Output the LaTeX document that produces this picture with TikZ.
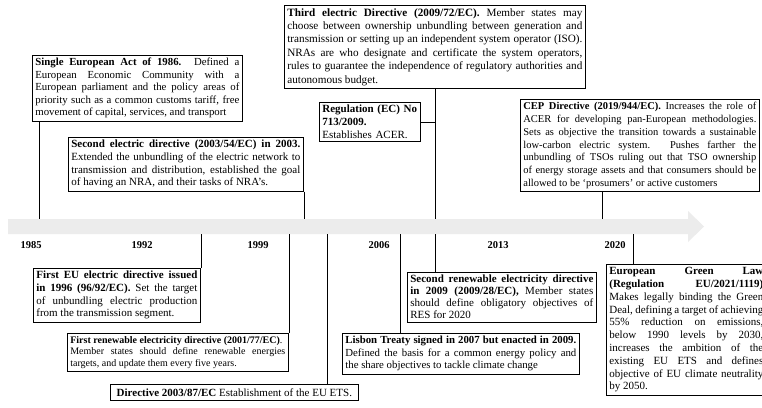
\documentclass[tikz,border=0pt]{standalone}
\usepackage{fontspec}
\setmainfont{Liberation Serif}
\usetikzlibrary{positioning}

\hyphenpenalty=10000
\exhyphenpenalty=10000
\tolerance=9999
\emergencystretch=2em

\tikzset{
	evbox/.style={draw, line width=0.7pt, anchor=north west, inner sep=3pt, align=justify},
	yearlbl/.style={font=\fontsize{10.5}{12}\selectfont\bfseries},
	link/.style={line width=0.7pt}
}

\begin{document}
\begin{tikzpicture}[x=1pt,y=-1pt]
	\clip (0,0) rectangle (762,407);
	\fill [white] (0,0) rectangle (762,407);
	
	% timeline arrow
	\fill [gray!15] (8,219) -- (688,219) -- (688,211) -- (704,226.5) -- (688,242) -- (688,234) -- (8,234) -- cycle;
	
	\foreach \yr/\xx in {1985/31,1992/142,1999/258,2006/379,2013/498,2020/615}
		\node [yearlbl] (y\yr) at (\xx,245) {\yr};
	
	% above the line
	\node [evbox, text width=204pt, font=\fontsize{10.8}{12.4}\selectfont] (sea) at (32,55) {\textbf{Single European Act of 1986.} Defined a\linebreak European Economic Community with a\linebreak European parliament and the policy areas of\linebreak priority such as a common customs tariff, free\linebreak movement of capital, services, and transport};
	\node [evbox, text width=229pt, font=\fontsize{11}{12.65}\selectfont] (sed) at (68,137) {\textbf{Second electric directive (2003/54/EC) in 2003.}\linebreak Extended the unbundling of the electric network to\linebreak transmission and distribution, established the goal\linebreak of having an NRA, and their tasks of NRA’s.};
	\node [evbox, text width=295pt, font=\fontsize{11.2}{13.4}\selectfont] (third) at (284,5) {\textbf{Third electric Directive (2009/72/EC).} Member states may\linebreak choose between ownership unbundling between generation and\linebreak transmission or setting up an independent system operator (ISO).\linebreak NRAs are who designate and certificate the system operators,\linebreak rules to guarantee the independence of regulatory authorities and\linebreak autonomous budget.};
	\node [evbox, text width=95pt, align=left, font=\fontsize{11}{12.65}\selectfont] (reg) at (319,102) {\textbf{Regulation (EC) No 713/2009.}\\ Establishes ACER.};
	\node [evbox, text width=233pt, font=\fontsize{10.5}{12.8}\selectfont] (cep) at (520,99) {\textbf{CEP Directive (2019/944/EC).} Increases the role of\linebreak ACER for developing pan-European methodologies.\linebreak Sets as objective the transition towards a sustainable\linebreak low-carbon electric system. Pushes farther the\linebreak unbundling of TSOs ruling out that TSO ownership\linebreak of energy storage assets and that consumers should be\linebreak allowed to be ‘prosumers’ or active customers};
	
	% below the line
	\node [evbox, text width=161pt, font=\fontsize{11}{12.65}\selectfont] (firstEU) at (33,268) {\textbf{First EU electric directive issued}\linebreak \textbf{in 1996 (96/92/EC).} Set the target\linebreak of unbundling electric production\linebreak from the transmission segment.};
	\node [evbox, text width=215pt, font=\fontsize{10}{11.5}\selectfont] (firstRen) at (67,333) {\textbf{First renewable electricity directive (2001/77/EC)}.\\ Member states should define renewable energies\linebreak targets, and update them every five years.};
	\node [evbox, minimum width=248pt, inner ysep=4pt, align=center, font=\fontsize{11}{12.65}\selectfont] (dirETS) at (110,384) {\textbf{Directive 2003/87/EC} Establishment of the EU ETS.};
	\node [evbox, text width=231pt, font=\fontsize{10.8}{12.4}\selectfont] (lisbon) at (342,333) {\textbf{Lisbon Treaty signed in 2007 but enacted in 2009.}\linebreak Defined the basis for a common energy policy and\linebreak the share objectives to tackle climate change};
	\node [evbox, text width=183pt, font=\fontsize{11}{12}\selectfont] (secRen) at (407,272) {\textbf{Second renewable electricity directive}\linebreak \textbf{in 2009 (2009/28/EC),} Member states\linebreak should define obligatory objectives of\linebreak RES for 2020};
	\node [evbox, text width=154pt, font=\fontsize{11}{12.8}\selectfont] (green) at (606,264) {\textbf{European Green Law}\linebreak \textbf{(Regulation EU/2021/1119)}\linebreak Makes legally binding the Green\linebreak Deal, defining a target of achieving\linebreak 55\% reduction on emissions,\linebreak below 1990 levels by 2030,\linebreak increases the ambition of the\linebreak existing EU ETS and defines\linebreak objective of EU climate neutrality\linebreak by 2050.};
	
	% drop lines
	\foreach \nm/\xx in {sea/39,sed/304,third/435,cep/602}
		\coordinate (up-\nm) at (\xx,219);
	\foreach \nm/\xx in {firstEU/201,firstRen/289,dirETS/327,lisbon/400,secRen/435,green/633}
		\coordinate (dn-\nm) at (\xx,234);
	\foreach \nm in {sea,sed,third,cep}
		\draw [link] (\nm.south -| up-\nm) -- (up-\nm);
	\foreach \nm in {firstEU,firstRen,dirETS,lisbon,secRen,green}
		\draw [link] (dn-\nm) -- (\nm.north -| dn-\nm);
	\draw [link] (reg.east) -- (reg.east -| up-third);
\end{tikzpicture}
\end{document}
